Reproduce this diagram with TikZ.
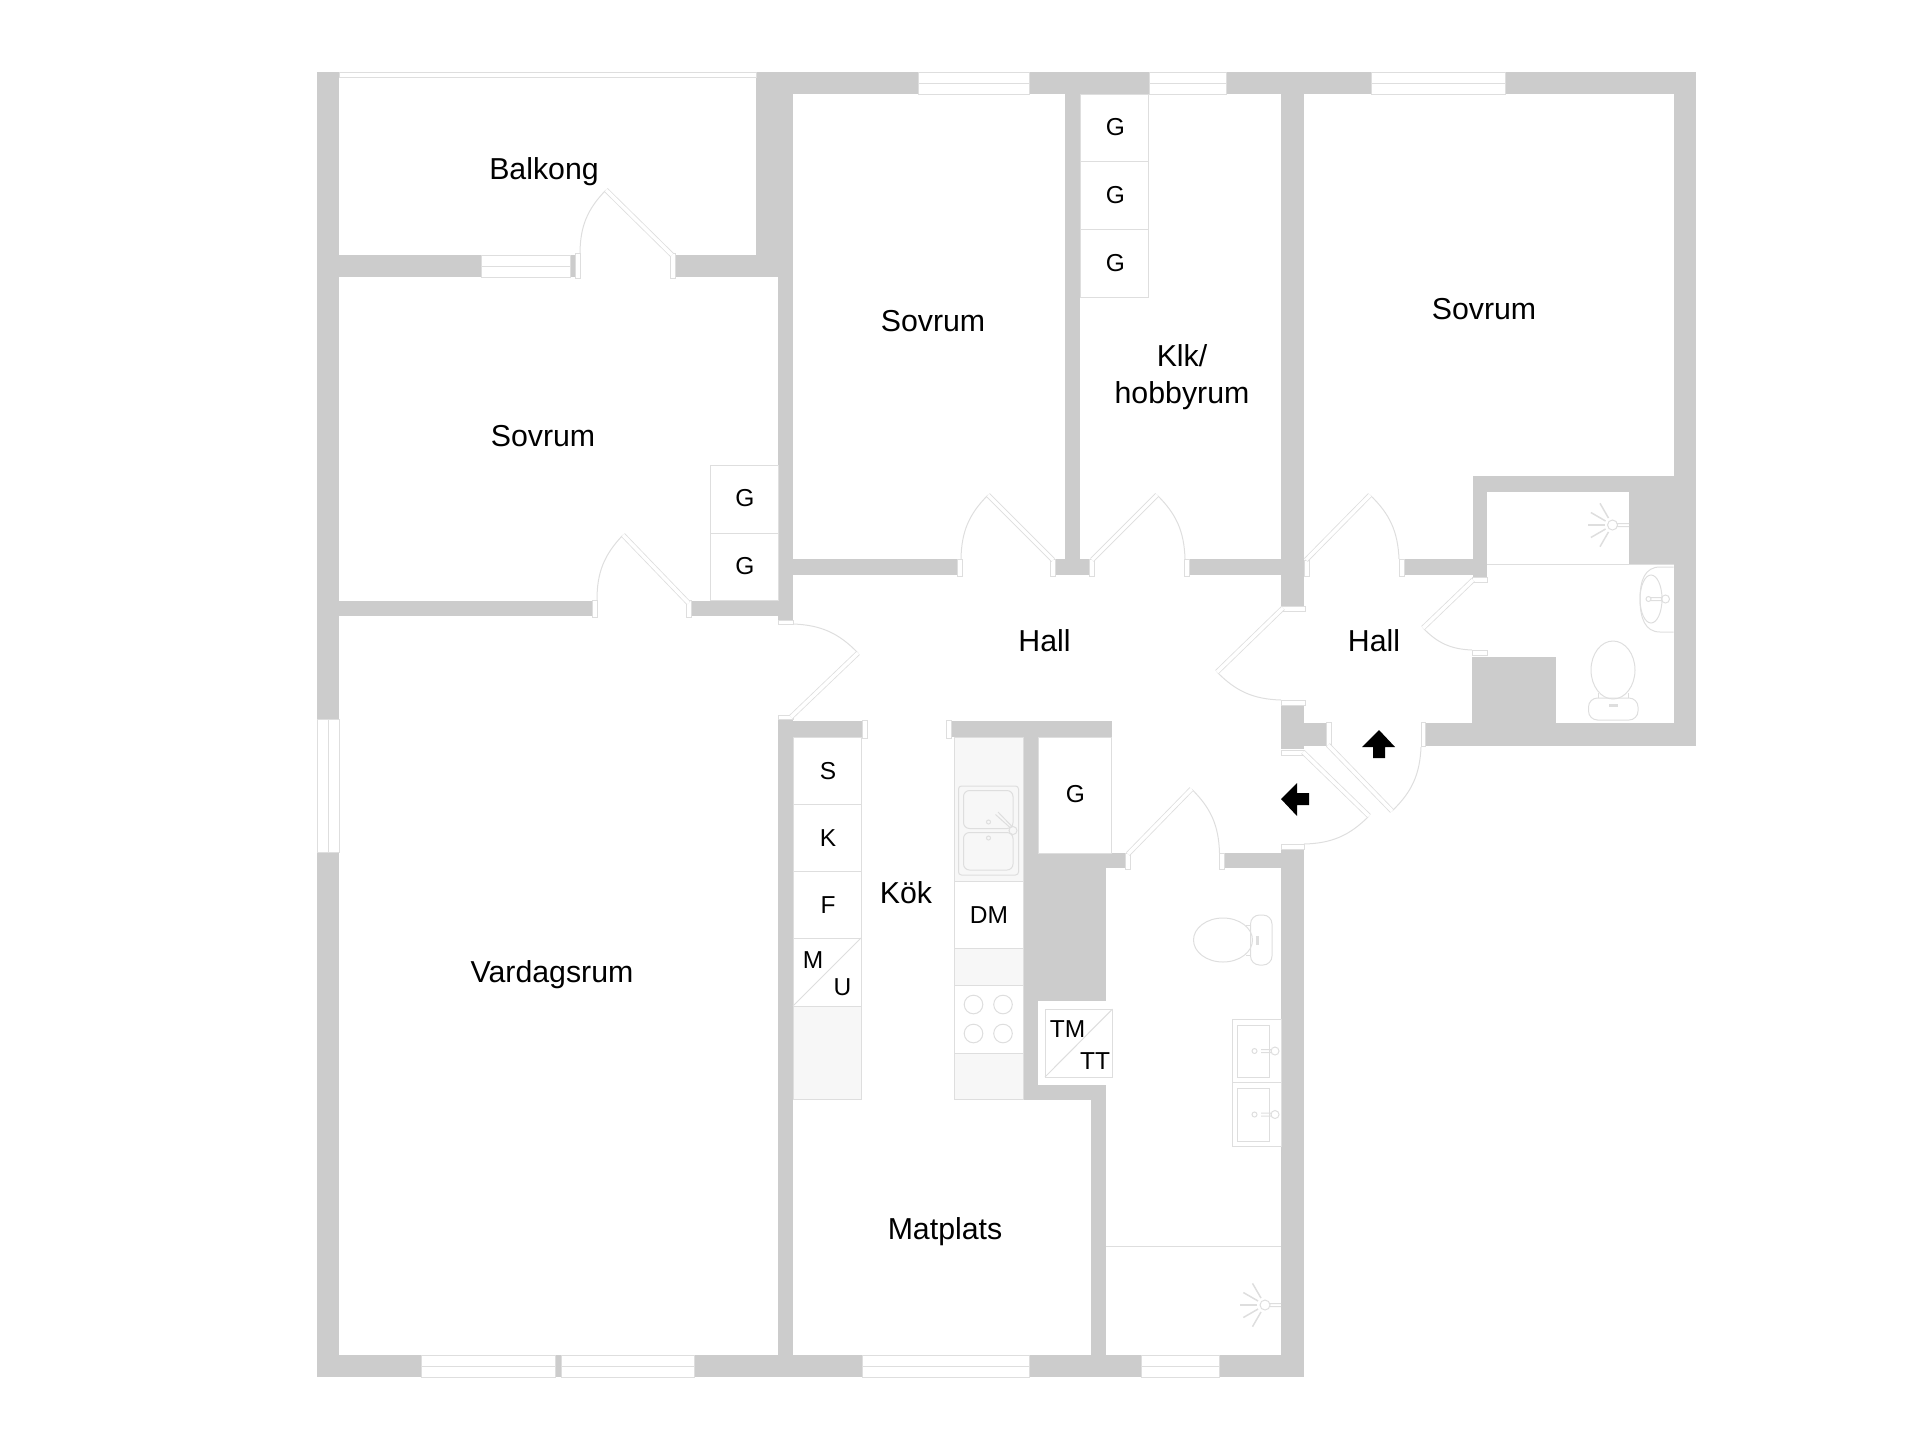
\documentclass[tikz,border=0pt]{standalone}
\usepackage{fontspec}
\setmainfont{Liberation Sans}
\definecolor{wallgray}{HTML}{CCCCCC}
\definecolor{linegray}{HTML}{DEDEDE}
\definecolor{unitgray}{HTML}{F7F7F7}
\tikzset{
  wallfill/.style={fill=wallgray},
  winbox/.style={draw=linegray,fill=white,line width=1pt},
  jambbox/.style={draw=linegray,fill=white,line width=1pt},
  fixture/.style={draw=linegray,line width=1pt},
  unitbox/.style={draw=linegray,fill=white,line width=1pt},
  fillbox/.style={draw=linegray,fill=unitgray,line width=1pt},
  leafline/.style={draw=linegray,double=white,double distance=3.5pt,line width=.8pt},
  roomlbl/.style={font=\fontsize{30.3}{37}\selectfont,align=center,inner sep=0pt},
  unitlbl/.style={font=\fontsize{24.5}{29}\selectfont,inner sep=0pt},
  arrowfill/.style={fill=black}
}
\begin{document}
\begin{tikzpicture}[x=1pt,y=-1pt]
\useasboundingbox (0,0) rectangle (1920,1441);

\foreach \xa/\ya/\xb/\yb in {317/72/339/1377, 317/1355/1304/1377, 756/72/1696/94, 756/72/793/277,
    1674/72/1696/746, 339/255/481/277, 570/255/575/277, 675/255/756/277, 778/277/793/620,
    339/601/592/616, 691/601/778/616, 793/559/957/575, 1055/559/1090/575, 1065/94/1080/575,
    1189/559/1282/575, 1281/94/1304/606, 1404/559/1473/575, 1473/476/1487/577, 1473/476/1674/492,
    1629/492/1674/564, 1472/657/1556/723, 1425/723/1696/746, 1281/705/1304/749, 1304/723/1326/746,
    1281/849/1304/1377, 1225/853/1281/868, 778/719/793/1377, 793/721/862/737, 951/721/1112/737,
    1023/737/1038/1100, 1023/853/1106/1001, 1038/853/1125/868, 1023/1085/1106/1100, 1091/1085/1106/1377}
  \fill[wallfill] (\xa,\ya) rectangle (\xb,\yb);

\foreach \xa/\ya/\xb/\yb/\ym in {481/255/570/277/266, 421/1355/555/1377/1366, 561/1355/694/1377/1366,
    862/1355/1029/1377/1366, 1141/1355/1219/1377/1366, 918/72/1029/94/83, 1149/72/1226/94/83,
    1371/72/1505/94/83}
  \draw[winbox] (\xa,\ya) rectangle (\xb,\yb) (\xa,\ym) -- (\xb,\ym);
\draw[winbox] (339,72) rectangle (756,77);
\draw[winbox] (317,719) rectangle (339,852) (328,719) -- (328,852);

\foreach \xa/\ya/\xb/\yb in {710/465/778/533, 710/533/778/600, 1080/94/1148/161, 1080/161/1148/229,
    1080/229/1148/297, 793/737/861/804, 793/804/861/871, 793/871/861/938, 793/938/861/1006,
    954/881/1023/948, 954/985/1023/1053, 1038/737/1111.5/853, 1045/1009/1112.5/1077}
  \draw[unitbox] (\xa,\ya) rectangle (\xb,\yb);
\foreach \xa/\ya/\xb/\yb in {793/1006/861/1099, 954/737/1023/881, 954/948/1023/985, 954/1053/1023/1099}
  \draw[fillbox] (\xa,\ya) rectangle (\xb,\yb);
\draw[fixture] (793,1006) -- (861,938) (1045,1077) -- (1112.5,1009);

\foreach \xa/\ya/\xb/\yb in {575/253/580/278, 670/253/675/278, 592/600/597/617, 686/600/691/617,
    957/559/962/576, 1050.5/559/1055.5/576, 1089.5/559/1094.5/576, 1184/559/1189/576, 1304/560/1309.5/576,
    1399/559/1404/576, 862/720/867/738, 946/720/951/738, 1125.5/853/1130.5/869, 1219.5/853/1224.5/869,
    1326.5/722/1331/746, 1421/722/1425.5/746, 778/620/793/624.5, 778/715/793/719, 1281/606/1305/611,
    1281/700/1305/705, 1281/750/1304/755, 1281/844/1304/849, 1472/577/1487.5/582, 1472/650/1487.5/655}
  \draw[jambbox] (\xa,\ya) rectangle (\xb,\yb);

\foreach \hx/\hy/\tx/\ty/\ex/\ey/\b in {672/255/606/190/580/253/22, 688.5/603/623/535/597/600/22,
    1053/560/988/495/961/559/22, 1092/560/1157/495/1185/559/-22, 791/717/858/653/793/624/22,
    1306/560/1370/495/1399/559/-22, 1283/608/1217/672/1281/700/22, 1473/580/1423/628/1472/650/22,
    1328/745/1392/811/1421/747/22, 1303/752/1369/816/1304/844/-22, 1128/854/1191.5/789/1219.5/853/-22}
{
  \draw[fixture] (\tx,\ty) to[bend right=\b] (\ex,\ey);
  \draw[leafline] (\hx,\hy) -- (\tx,\ty);
}

\fill[arrowfill] (1379,730) -- (1395,747) -- (1385,747) -- (1385,758) -- (1373,758) -- (1373,747) -- (1362,747) -- cycle;
\fill[arrowfill] (1281,799) -- (1297,783) -- (1297,793) -- (1309,793) -- (1309,805) -- (1297,805) -- (1297,816) -- cycle;

\foreach \sx/\sy/\pe in {1612.5/525/1629, 1265/1305/1281}
{
  \draw[fixture] (\sx,\sy) circle (5) (\sx+5,\sy-1.5) -- (\pe,\sy-1.5) (\sx+5,\sy+1.5) -- (\pe,\sy+1.5);
  \foreach \a in {0,30,60,-30,-60}
    \draw[linegray,line width=1.5pt] (\sx,\sy) ++(180+\a:8) -- ++(180+\a:17);
}
\draw[fixture] (1487,564) -- (1674,564);
\draw[fixture] (1106,1246) -- (1281,1246);

\draw[fixture] (1673.5,567) -- (1660,567) .. controls (1645,567) and (1640,580) .. (1640,599) .. controls (1640,618) and (1645,632) .. (1660,632) -- (1673.5,632);
\draw[fixture] (1651,599) ellipse [x radius=11,y radius=24];
\draw[fixture] (1665.5,599) circle (4) (1648.5,599) circle (2.5) (1651,597.5) -- (1661.5,597.5) (1651,600.5) -- (1661.5,600.5);

\draw[fixture] (1613,670) ellipse [x radius=22,y radius=29];
\draw[fixture] (1598,693) -- (1598,698) (1628,693) -- (1628,698);
\draw[fixture,rounded corners=9pt] (1588.5,698) rectangle (1638,720);
\draw[fixture,fill=linegray] (1609,704) rectangle (1617,706);

\draw[fixture] (1223,940) ellipse [x radius=29.5,y radius=22];
\draw[fixture] (1246,925) -- (1250.5,925) (1246,955) -- (1250.5,955);
\draw[fixture,rounded corners=9pt] (1250.5,915) rectangle (1272,965);
\draw[fixture,fill=linegray] (1256,936) rectangle (1258,944);

\draw[fixture] (1232,1019) rectangle (1281,1082) (1232,1082) rectangle (1281,1146);
\foreach \sy/\sa/\sb in {1051/1025/1077, 1114.5/1088/1141}
{
  \draw[fixture] (1237,\sa) rectangle (1269,\sb);
  \draw[fixture] (1275,\sy) circle (4) (1254.5,\sy) circle (2.5) (1261,\sy-1.5) -- (1271,\sy-1.5) (1261,\sy+1.5) -- (1271,\sy+1.5);
}

\draw[fixture,rounded corners=3pt] (958.5,786) rectangle (1018.5,875);
\draw[fixture,rounded corners=6pt] (963.5,790.5) rectangle (1013,828.5);
\draw[fixture,rounded corners=6pt] (963.5,832.5) rectangle (1013,870);
\draw[fixture] (988.5,822) circle (2) (988.5,838) circle (2);
\draw[fixture,fill=unitgray] (1013,830.5) circle (4);
\draw[fixture] (995.5,814.5) -- (1010,827.5) (998,812) -- (1012,826.5);
\foreach \cx/\cy in {973.5/1004.5, 1003/1004.5, 973.5/1033.5, 1003/1033.5}
  \draw[fixture] (\cx,\cy) circle (9.3);

\node[roomlbl] (balkong) at (544,171.5) {Balkong};
\node[roomlbl] (sovrumA) at (543,436) {Sovrum};
\node[roomlbl] (sovrumB) at (933,321) {Sovrum};
\node[roomlbl] (sovrumC) at (1484,309) {Sovrum};
\node[roomlbl] (hobby) at (1182,377) {Klk/\\hobbyrum};
\node[roomlbl] (hallA) at (1044.5,640.5) {Hall};
\node[roomlbl] (hallB) at (1374,640.5) {Hall};
\node[roomlbl] (vardag) at (552,975) {Vardagsrum};
\node[roomlbl] (kok) at (906,893) {Kök};
\node[roomlbl] (matplats) at (945,1232) {Matplats};

\node[unitlbl] (gA) at (745,498.5) {G};
\node[unitlbl] (gB) at (745,566.5) {G};
\node[unitlbl] (gC) at (1115.5,127.5) {G};
\node[unitlbl] (gD) at (1115.5,195) {G};
\node[unitlbl] (gE) at (1115.5,263) {G};
\node[unitlbl] (gF) at (1075.5,794) {G};
\node[unitlbl] (sk) at (828,771) {S};
\node[unitlbl] (kl) at (828,838) {K};
\node[unitlbl] (fr) at (828,905) {F};
\node[unitlbl] (mw) at (813,960) {M};
\node[unitlbl] (ug) at (842.5,987) {U};
\node[unitlbl] (dm) at (989,915) {DM};
\node[unitlbl] (tm) at (1067.5,1029) {TM};
\node[unitlbl] (tt) at (1095,1061.5) {TT};
\end{tikzpicture}
\end{document}
